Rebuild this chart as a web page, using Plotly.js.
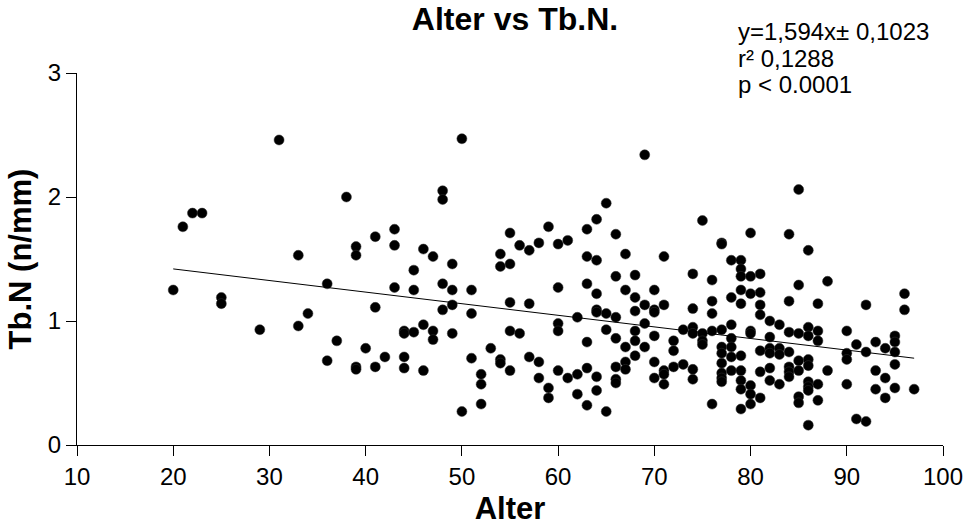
<!DOCTYPE html>
<html>
<head>
<meta charset="utf-8">
<script src="https://cdn.plot.ly/plotly-3.0.1.min.js"></script>
<style>html,body{margin:0;padding:0;background:#fff;}#chart{width:970px;height:528px;}</style>
</head>
<body>
<div id="chart"></div>
<script>
// Age (Alter) and trabecular number (Tb.N, n/mm)
const ages = [
 20,21,22,23,25,25,29,31,33,33,34,36,36,37,38,
 39,39,39,39,40,41,41,41,42,43,43,43,44,44,44,44,
 45,45,45,46,46,46,47,47,47,48,48,48,48,49,49,49,49,
 50,50,51,51,51,52,52,52,53,54,54,54,54,55,55,55,55,55,
 56,56,57,57,57,58,58,58,59,59,59,60,60,60,60,60,61,61,
 62,62,62,63,63,63,63,63,63,64,64,64,64,64,64,64,
 65,65,65,65,66,66,66,66,66,66,66,67,67,67,67,67,
 68,68,68,68,68,68,69,69,69,69,70,70,70,70,70,70,
 71,71,71,71,71,72,72,72,73,73,74,74,74,74,74,74,
 75,75,75,75,76,76,76,76,76,77,77,77,77,77,77,77,77,77,
 78,78,78,78,78,78,78,79,79,79,79,79,79,79,79,79,79,
 80,80,80,80,80,80,80,80,81,81,81,81,81,81,81,
 82,82,82,82,82,82,83,83,83,83,84,84,84,84,84,84,84,
 85,85,85,85,85,85,85,86,86,86,86,86,86,86,86,86,
 87,87,87,87,87,88,88,90,90,90,90,91,91,92,92,92,
 93,93,93,94,94,94,95,95,95,95,95,96,96,97
];
const tbn = [
 1.25,1.76,1.87,1.87,1.19,1.14,0.93,2.46,1.53,0.96,1.06,1.30,0.68,0.84,2.00,
 1.60,1.53,0.63,0.61,0.78,1.68,1.11,0.63,0.71,1.74,1.61,1.27,0.92,0.90,0.71,0.62,
 1.41,1.25,0.91,1.58,0.97,0.60,1.52,0.92,0.85,2.05,1.98,1.30,1.09,1.46,1.25,1.13,0.90,
 2.47,0.27,1.25,1.06,0.70,0.57,0.49,0.33,0.78,1.54,1.44,0.69,0.66,1.71,1.46,1.15,0.92,0.60,
 1.61,0.90,1.57,1.14,0.71,1.63,0.67,0.54,1.76,0.46,0.38,1.62,1.27,0.98,0.92,0.60,1.65,0.54,
 1.03,0.57,0.41,1.74,1.52,1.30,0.83,0.62,0.32,1.82,1.49,1.22,1.09,1.07,0.55,0.44,
 1.95,1.06,0.93,0.27,1.70,1.36,1.03,0.86,0.63,0.53,0.50,1.54,1.25,0.79,0.67,0.61,
 1.37,1.19,1.08,0.92,0.84,0.72,2.34,1.13,0.98,0.79,1.25,1.09,1.07,0.88,0.67,0.54,
 1.52,1.13,0.60,0.57,0.49,0.84,0.76,0.63,0.93,0.65,1.38,1.10,0.95,0.90,0.61,0.53,
 1.81,0.90,0.84,0.81,1.33,1.16,1.06,0.92,0.33,1.63,1.62,0.93,0.79,0.74,0.66,0.58,0.54,0.51,
 1.49,1.19,0.97,0.86,0.79,0.71,0.60,1.49,1.42,1.36,1.25,1.14,0.72,0.60,0.52,0.45,0.29,
 1.71,1.36,1.22,0.92,0.90,0.48,0.41,0.33,1.38,1.23,1.13,1.05,0.76,0.59,0.38,
 1.00,0.87,0.78,0.74,0.62,0.52,0.97,0.78,0.73,0.49,1.70,1.16,0.91,0.75,0.63,0.59,0.55,
 2.06,1.29,0.90,0.68,0.60,0.39,0.34,1.57,0.95,0.88,0.69,0.64,0.51,0.47,0.44,0.16,
 1.14,0.92,0.84,0.49,0.36,1.32,0.60,0.92,0.74,0.69,0.49,0.81,0.21,1.13,0.75,0.19,
 0.83,0.60,0.45,0.78,0.54,0.38,0.88,0.83,0.75,0.65,0.46,1.22,1.09,0.45
];
// Regression line end points as drawn
const fitX = [20, 97];
const fitY = [1.42, 0.70];
const xTicks = [10,20,30,40,50,60,70,80,90,100];
const yTicks = [0,1,2,3];
const statLines = ["y=1,594x\u00b1 0,1023", "r\u00b2 0,1288", "p < 0.0001"];

const FONT = "Liberation Sans, Arial, sans-serif";

const traces = [
  {x: ages, y: tbn, type: 'scatter', mode: 'markers',
   marker: {color: '#000', size: 10, line: {color: '#333', width: 0.5}},
   hoverinfo: 'x+y', showlegend: false},
  {x: fitX, y: fitY, type: 'scatter', mode: 'lines',
   line: {color: '#000', width: 1}, showlegend: false}
];

const layout = {
  width: 970, height: 528,
  margin: {l: 77, r: 27, t: 73, b: 83},
  paper_bgcolor: '#fff', plot_bgcolor: '#fff',
  font: {family: FONT, color: '#000', size: 24},
  title: {text: '<b>Alter vs Tb.N.</b>', font: {family: FONT, size: 32, color: '#000'},
          xref: 'container', x: 515 / 970, xanchor: 'center', yref: 'container', y: 1 - 19 / 528, yanchor: 'middle'},
  xaxis: {range: [10, 100], tickvals: xTicks, ticktext: xTicks.map(String),
          showline: true, linecolor: '#000', linewidth: 1, ticks: 'outside', ticklen: 10, tickwidth: 1, tickcolor: '#000',
          showgrid: false, zeroline: false, tickfont: {size: 24},
          title: {text: '<b>Alter</b>', font: {size: 31}, standoff: 8}},
  yaxis: {range: [0, 3], tickvals: yTicks, ticktext: yTicks.map(String),
          showline: true, linecolor: '#000', linewidth: 1, ticks: 'outside', ticklen: 10, tickwidth: 1, tickcolor: '#000',
          showgrid: false, zeroline: false, tickfont: {size: 24},
          title: {text: '<b>Tb.N (n/mm)</b>', font: {size: 31}, standoff: 6}},
  annotations: statLines.map((t, i) => ({
    text: t, xref: 'paper', yref: 'paper', x: (736 - 77) / 866, y: 1 + (73 - (31 + i * 27)) / 372,
    xanchor: 'left', yanchor: 'middle', showarrow: false, font: {size: 24, family: FONT, color: '#000'}
  }))
};

Plotly.newPlot('chart', traces, layout, {displayModeBar: false, staticPlot: true});
</script>
</body>
</html>
